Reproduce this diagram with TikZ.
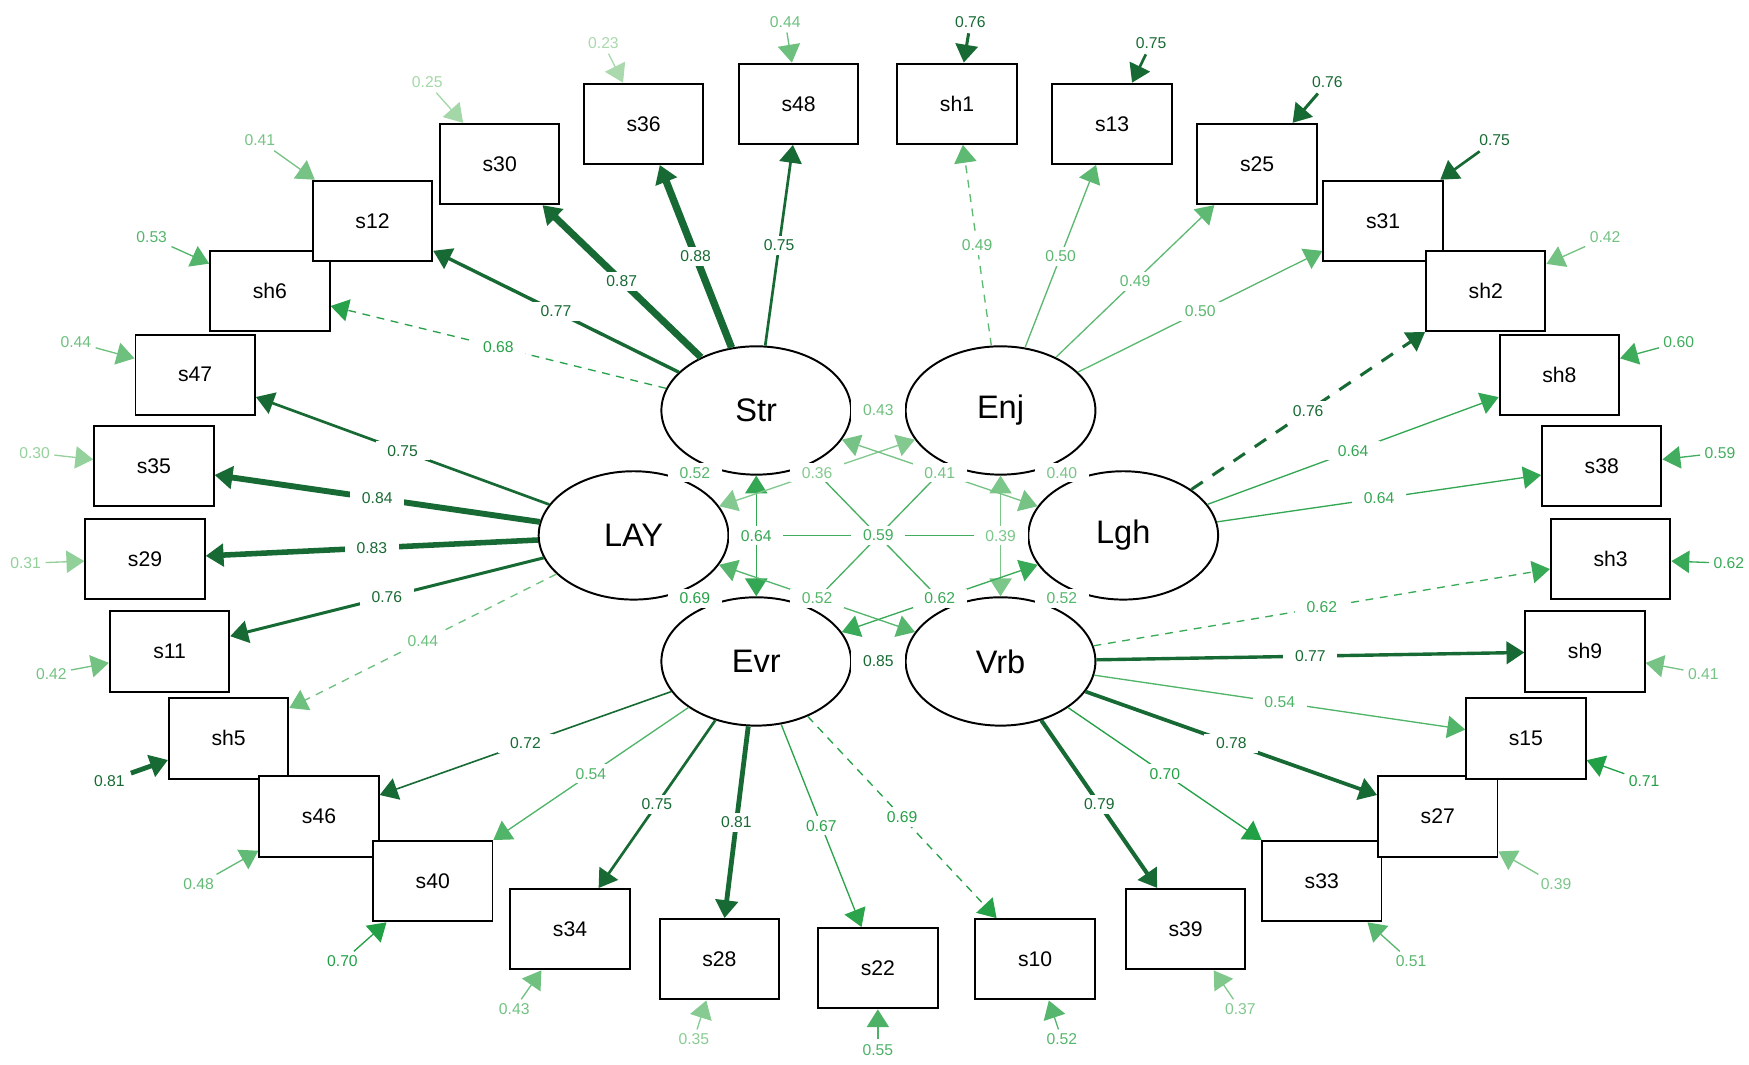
\documentclass[tikz,border=0pt]{standalone}
\usepackage{fontspec}
\setmainfont{Liberation Sans}
\usetikzlibrary{arrows.meta,shapes.geometric}
\definecolor{dk}{RGB}{24,106,52}
\definecolor{md}{RGB}{34,160,70}
\definecolor{pl}{RGB}{178,221,178}
\newcommand\setld[1]{%
  \pgfmathsetmacro\ldw{max(0.34,0.683+9.1*(#1-0.75))}%
  \pgfmathsetmacro\ldp{min(100,max(0,(#1-0.2)*200))}%
  \pgfmathtruncatemacro\ldk{#1>0.715}%
  \ifnum\ldk=1 \colorlet{ldcol}{dk}\else\colorlet{ldcol}{md!\ldp!pl}\fi}
\tikzset{
  ld/.style={/utils/exec={\setld{#1}}, color=ldcol, line width=\ldw pt},
  lat/.style={ellipse, draw, line width=0.5pt, minimum width=1.7cm, minimum height=1.15cm, inner sep=0pt, font=\fontsize{8.3}{9}\selectfont},
  obs/.style={rectangle, draw, fill=white, line width=0.5pt, minimum width=1.07cm, minimum height=0.72cm, font=\fontsize{5.4}{6}\selectfont},
  lab/.style={fill=white, inner xsep=3pt, inner ysep=1pt, font=\fontsize{4}{4}\selectfont},
  rs/.style={inner sep=1pt, font=\fontsize{4}{4}\selectfont},
  dashln/.style={dash pattern=on 2pt off 1.7pt},
  >={Triangle[length=0.16cm,width=0.2cm]}
}
\begin{document}
\begin{tikzpicture}[x=0.01cm, y=-0.01cm]
\useasboundingbox (0,0) rectangle (1568,954);
% factors
\node[lat] (Str) at (678,368) {Str};
\node[lat] (Enj) at (897,368) {Enj};
\node[lat] (LAY) at (568,480) {LAY};
\node[lat] (Lgh) at (1007,480) {Lgh};
\node[lat] (Evr) at (678,593) {Evr};
\node[lat] (Vrb) at (897,593) {Vrb};
% items
\node[obs] (s48) at (716,93) {s48};
\node[obs] (s36) at (577,111) {s36};
\node[obs] (s30) at (448,147) {s30};
\node[obs] (sh6) at (242,261) {sh6};
\node[obs] (s12) at (334,198) {s12};
\node[obs] (s47) at (175,336) {s47};
\node[obs] (s35) at (138,418) {s35};
\node[obs] (s29) at (130,501) {s29};
\node[obs] (s11) at (152,584) {s11};
\node[obs] (sh5) at (205,662) {sh5};
\node[obs] (s46) at (286,732) {s46};
\node[obs] (s40) at (388,790) {s40};
\node[obs] (s34) at (511,833) {s34};
\node[obs] (s28) at (645,860) {s28};
\node[obs] (s22) at (787,868) {s22};
\node[obs] (s10) at (928,860) {s10};
\node[obs] (s39) at (1063,833) {s39};
\node[obs] (s33) at (1185,790) {s33};
\node[obs] (s27) at (1289,732) {s27};
\node[obs] (s15) at (1368,662) {s15};
\node[obs] (sh9) at (1421,584) {sh9};
\node[obs] (sh3) at (1444,501) {sh3};
\node[obs] (s38) at (1436,418) {s38};
\node[obs] (sh8) at (1398,336) {sh8};
\node[obs] (s31) at (1240,198) {s31};
\node[obs] (sh2) at (1332,261) {sh2};
\node[obs] (s25) at (1127,147) {s25};
\node[obs] (s13) at (997,111) {s13};
\node[obs] (sh1) at (858,93) {sh1};
% loadings
\draw[ld=0.75, ->] (Str) -- node[lab] {0.75} (s48);
\draw[ld=0.88, ->] (Str) -- node[lab] {0.88} (s36);
\draw[ld=0.87, ->] (Str) -- node[lab] {0.87} (s30);
\draw[ld=0.77, ->] (Str) -- node[lab] {0.77} (s12);
\draw[ld=0.68, dashln, ->] (Str) -- node[lab] {0.68} (sh6);
\draw[ld=0.75, ->] (LAY) -- node[lab] {0.75} (s47);
\draw[ld=0.84, ->] (LAY) -- node[lab] {0.84} (s35);
\draw[ld=0.83, ->] (LAY) -- node[lab] {0.83} (s29);
\draw[ld=0.76, ->] (LAY) -- node[lab] {0.76} (s11);
\draw[ld=0.44, dashln, ->] (LAY) -- node[lab] {0.44} (sh5);
\draw[ld=0.72, ->] (Evr) -- node[lab] {0.72} (s46);
\draw[ld=0.54, ->] (Evr) -- node[lab] {0.54} (s40);
\draw[ld=0.75, ->] (Evr) -- node[lab] {0.75} (s34);
\draw[ld=0.81, ->] (Evr) -- node[lab] {0.81} (s28);
\draw[ld=0.67, ->] (Evr) -- node[lab] {0.67} (s22);
\draw[ld=0.69, dashln, ->] (Evr) -- node[lab] {0.69} (s10);
\draw[ld=0.79, ->] (Vrb) -- node[lab] {0.79} (s39);
\draw[ld=0.70, ->] (Vrb) -- node[lab] {0.70} (s33);
\draw[ld=0.78, ->] (Vrb) -- node[lab] {0.78} (s27);
\draw[ld=0.54, ->] (Vrb) -- node[lab] {0.54} (s15);
\draw[ld=0.77, ->] (Vrb) -- node[lab] {0.77} (sh9);
\draw[ld=0.62, dashln, ->] (Vrb) -- node[lab] {0.62} (sh3);
\draw[ld=0.64, ->] (Lgh) -- node[lab] {0.64} (s38);
\draw[ld=0.64, ->] (Lgh) -- node[lab] {0.64} (sh8);
\draw[ld=0.76, dash pattern=on 3.5pt off 3pt, ->] (Lgh) -- node[lab] {0.76} (sh2);
\draw[ld=0.50, ->] (Enj) -- node[lab] {0.50} (s31);
\draw[ld=0.49, ->] (Enj) -- node[lab] {0.49} (s25);
\draw[ld=0.50, ->] (Enj) -- node[lab] {0.50} (s13);
\draw[ld=0.49, dashln, ->] (Enj) -- node[lab] {0.49} (sh1);
% residuals
\node[rs, ld=0.44] (r48) at (704,20) {0.44}; \draw[ld=0.44, ->] (r48) -- (s48);
\node[rs, ld=0.23] (r36) at (541,39) {0.23}; \draw[ld=0.23, ->] (r36) -- (s36);
\node[rs, ld=0.25] (r30) at (383,74) {0.25}; \draw[ld=0.25, ->] (r30) -- (s30);
\node[rs, ld=0.41] (r12) at (233,126) {0.41}; \draw[ld=0.41, ->] (r12) -- (s12);
\node[rs, ld=0.53] (rh6) at (136,213) {0.53}; \draw[ld=0.53, ->] (rh6) -- (sh6);
\node[rs, ld=0.44] (r47) at (68,307) {0.44}; \draw[ld=0.44, ->] (r47) -- (s47);
\node[rs, ld=0.30] (r35) at (31,406) {0.30}; \draw[ld=0.30, ->] (r35) -- (s35);
\node[rs, ld=0.31] (r29) at (23,505) {0.31}; \draw[ld=0.31, ->] (r29) -- (s29);
\node[rs, ld=0.42] (r11) at (46,604) {0.42}; \draw[ld=0.42, ->] (r11) -- (s11);
\node[rs, ld=0.81] (rh5) at (98,700) {0.81}; \draw[ld=0.81, ->] (rh5) -- (sh5);
\node[rs, ld=0.48] (r46) at (178,793) {0.48}; \draw[ld=0.48, ->] (r46) -- (s46);
\node[rs, ld=0.70] (r40) at (307,862) {0.70}; \draw[ld=0.70, ->] (r40) -- (s40);
\node[rs, ld=0.43] (r34) at (461,905) {0.43}; \draw[ld=0.43, ->] (r34) -- (s34);
\node[rs, ld=0.35] (r28) at (622,932) {0.35}; \draw[ld=0.35, ->] (r28) -- (s28);
\node[rs, ld=0.55] (r22) at (787,941) {0.55}; \draw[ld=0.55, ->] (r22) -- (s22);
\node[rs, ld=0.52] (r10) at (952,932) {0.52}; \draw[ld=0.52, ->] (r10) -- (s10);
\node[rs, ld=0.37] (r39) at (1112,905) {0.37}; \draw[ld=0.37, ->] (r39) -- (s39);
\node[rs, ld=0.51] (r33) at (1265,862) {0.51}; \draw[ld=0.51, ->] (r33) -- (s33);
\node[rs, ld=0.39] (r27) at (1395,793) {0.39}; \draw[ld=0.39, ->] (r27) -- (s27);
\node[rs, ld=0.71] (r15) at (1474,700) {0.71}; \draw[ld=0.71, ->] (r15) -- (s15);
\node[rs, ld=0.41] (rh9) at (1527,604) {0.41}; \draw[ld=0.41, ->] (rh9) -- (sh9);
\node[rs, ld=0.62] (rh3) at (1550,505) {0.62}; \draw[ld=0.62, ->] (rh3) -- (sh3);
\node[rs, ld=0.59] (r38) at (1542,406) {0.59}; \draw[ld=0.59, ->] (r38) -- (s38);
\node[rs, ld=0.60] (rh8) at (1505,307) {0.60}; \draw[ld=0.60, ->] (rh8) -- (sh8);
\node[rs, ld=0.42] (rh2) at (1439,213) {0.42}; \draw[ld=0.42, ->] (rh2) -- (sh2);
\node[rs, ld=0.75] (r31) at (1340,126) {0.75}; \draw[ld=0.75, ->] (r31) -- (s31);
\node[rs, ld=0.76] (r25) at (1190,74) {0.76}; \draw[ld=0.76, ->] (r25) -- (s25);
\node[rs, ld=0.75] (r13) at (1032,39) {0.75}; \draw[ld=0.75, ->] (r13) -- (s13);
\node[rs, ld=0.76] (rh1) at (870,20) {0.76}; \draw[ld=0.76, ->] (rh1) -- (sh1);
% factor correlations
\draw[ld=0.59] (LAY) -- (Lgh);
\draw[ld=0.58] (Str) -- (Vrb);
\draw[ld=0.56] (Enj) -- (Evr);
\draw[ld=0.64, <->] (Str) -- (Evr);
\draw[ld=0.39, <->] (Enj) -- (Vrb);
\draw[ld=0.36, <->] (LAY) -- (Enj);
\draw[ld=0.41, <->] (Str) -- (Lgh);
\draw[ld=0.52, <->] (LAY) -- (Vrb);
\draw[ld=0.62, <->] (Evr) -- (Lgh);
\path[ld=0.56] (Enj) -- node[lab] {0.56} (Evr);
\path[ld=0.58] (Str) -- node[lab] {0.58} (Vrb);
\path[ld=0.59] (LAY) -- node[lab] {0.59} (Lgh);
\path[ld=0.64] (Str) -- node[lab] {0.64} (Evr);
\path[ld=0.39] (Enj) -- node[lab] {0.39} (Vrb);
\path[ld=0.36] (LAY) -- node[lab] {0.36} (Enj);
\path[ld=0.41] (Str) -- node[lab] {0.41} (Lgh);
\path[ld=0.52] (LAY) -- node[lab] {0.52} (Vrb);
\path[ld=0.62] (Evr) -- node[lab] {0.62} (Lgh);
\path[ld=0.43] (Str) -- node[lab] {0.43} (Enj);
\path[ld=0.52] (Str) -- node[lab] {0.52} (LAY);
\path[ld=0.69] (LAY) -- node[lab] {0.69} (Evr);
\path[ld=0.40] (Enj) -- node[lab] {0.40} (Lgh);
\path[ld=0.52] (Lgh) -- node[lab] {0.52} (Vrb);
\path[ld=0.85] (Evr) -- node[lab] {0.85} (Vrb);
\end{tikzpicture}
\end{document}
